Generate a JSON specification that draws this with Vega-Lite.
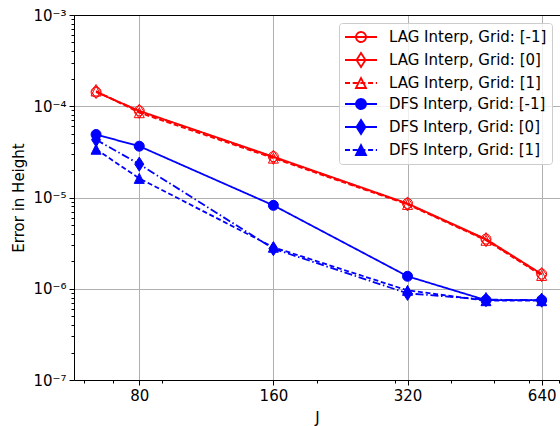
{
  "$schema": "https://vega.github.io/schema/vega-lite/v6.json",
  "width": 486,
  "height": 365,
  "autosize": {"type": "none"},
  "padding": {"left": 74, "top": 15, "right": 0, "bottom": 46},
  "config": {
    "view": {"stroke": null},
    "font": "DejaVu Sans",
    "axis": {"labelFont": "DejaVu Sans", "titleFont": "DejaVu Sans", "labelColor": "#000", "titleColor": "#000", "titleFontWeight": "normal", "labelFontSize": 15, "titleFontSize": 15, "domainColor": "#000", "domainWidth": 1, "tickColor": "#000", "tickWidth": 1, "labelOverlap": false, "labelFlush": false}
  },
  "data": {"values": [
    {"J": 64, "err": 1.43e-4, "series": "LAG Interp, Grid: [-1]"},
    {"J": 80, "err": 8.9e-5, "series": "LAG Interp, Grid: [-1]"},
    {"J": 160, "err": 2.8e-5, "series": "LAG Interp, Grid: [-1]"},
    {"J": 320, "err": 8.6e-6, "series": "LAG Interp, Grid: [-1]"},
    {"J": 480, "err": 3.5e-6, "series": "LAG Interp, Grid: [-1]"},
    {"J": 640, "err": 1.45e-6, "series": "LAG Interp, Grid: [-1]"},
    {"J": 64, "err": 1.45e-4, "series": "LAG Interp, Grid: [0]"},
    {"J": 80, "err": 8.8e-5, "series": "LAG Interp, Grid: [0]"},
    {"J": 160, "err": 2.76e-5, "series": "LAG Interp, Grid: [0]"},
    {"J": 320, "err": 8.5e-6, "series": "LAG Interp, Grid: [0]"},
    {"J": 480, "err": 3.45e-6, "series": "LAG Interp, Grid: [0]"},
    {"J": 640, "err": 1.43e-6, "series": "LAG Interp, Grid: [0]"},
    {"J": 64, "err": 1.47e-4, "series": "LAG Interp, Grid: [1]"},
    {"J": 80, "err": 8.5e-5, "series": "LAG Interp, Grid: [1]"},
    {"J": 160, "err": 2.7e-5, "series": "LAG Interp, Grid: [1]"},
    {"J": 320, "err": 8.4e-6, "series": "LAG Interp, Grid: [1]"},
    {"J": 480, "err": 3.4e-6, "series": "LAG Interp, Grid: [1]"},
    {"J": 640, "err": 1.4e-6, "series": "LAG Interp, Grid: [1]"},
    {"J": 64, "err": 4.9e-5, "series": "DFS Interp, Grid: [-1]"},
    {"J": 80, "err": 3.65e-5, "series": "DFS Interp, Grid: [-1]"},
    {"J": 160, "err": 8.2e-6, "series": "DFS Interp, Grid: [-1]"},
    {"J": 320, "err": 1.37e-6, "series": "DFS Interp, Grid: [-1]"},
    {"J": 480, "err": 7.5e-7, "series": "DFS Interp, Grid: [-1]"},
    {"J": 640, "err": 7.5e-7, "series": "DFS Interp, Grid: [-1]"},
    {"J": 64, "err": 4.3e-5, "series": "DFS Interp, Grid: [0]"},
    {"J": 80, "err": 2.32e-5, "series": "DFS Interp, Grid: [0]"},
    {"J": 160, "err": 2.75e-6, "series": "DFS Interp, Grid: [0]"},
    {"J": 320, "err": 8.9e-7, "series": "DFS Interp, Grid: [0]"},
    {"J": 480, "err": 7.6e-7, "series": "DFS Interp, Grid: [0]"},
    {"J": 640, "err": 7.5e-7, "series": "DFS Interp, Grid: [0]"},
    {"J": 64, "err": 3.38e-5, "series": "DFS Interp, Grid: [1]"},
    {"J": 80, "err": 1.62e-5, "series": "DFS Interp, Grid: [1]"},
    {"J": 160, "err": 2.85e-6, "series": "DFS Interp, Grid: [1]"},
    {"J": 320, "err": 9.6e-7, "series": "DFS Interp, Grid: [1]"},
    {"J": 480, "err": 7.4e-7, "series": "DFS Interp, Grid: [1]"},
    {"J": 640, "err": 7.4e-7, "series": "DFS Interp, Grid: [1]"}
  ]},
  "encoding": {
    "y": {
      "field": "err", "type": "quantitative",
      "scale": {"type": "log", "domain": [1e-7, 1e-3], "nice": false},
      "axis": {
        "title": "Error in Height",
        "titlePadding": 6,
        "values": [1e-7, 2e-7, 3e-7, 4e-7, 5e-7, 6e-7, 7e-7, 8e-7, 9e-7, 1e-6, 2e-6, 3e-6, 4e-6, 5e-6, 6e-6, 7e-6, 8e-6, 9e-6, 1e-5, 2e-5, 3e-5, 4e-5, 5e-5, 6e-5, 7e-5, 8e-5, 9e-5, 1e-4, 2e-4, 3e-4, 4e-4, 5e-4, 6e-4, 7e-4, 8e-4, 9e-4, 1e-3],
        "labelExpr": "abs(log(datum.value)/LN10 - round(log(datum.value)/LN10)) < 0.001 ? '10' + ['⁻⁷','⁻⁶','⁻⁵','⁻⁴','⁻³'][round(log(datum.value)/LN10)+7] : ''",
        "labelPadding": 3,
        "tickSize": {"condition": {"test": "abs(log(datum.value)/LN10 - round(log(datum.value)/LN10)) < 0.001", "value": 5}, "value": 3},
        "grid": true,
        "gridColor": "#b0b0b0",
        "gridWidth": 1,
        "gridOpacity": {"condition": {"test": "abs(log(datum.value)/LN10 - round(log(datum.value)/LN10)) < 0.001", "value": 1}, "value": 0}
      }
    }
  },
  "layer": [
    {
      "mark": {"type": "line", "strokeWidth": 1.8},
      "encoding": {
        "x": {
          "field": "J", "type": "quantitative",
          "scale": {"type": "log", "domain": [57.1, 703.6], "nice": false},
          "axis": {
            "title": "J",
            "titlePadding": 7,
            "values": [60, 70, 80, 90, 160, 200, 300, 320, 400, 500, 600, 640, 700],
            "labelExpr": "indexof([80,160,320,640], datum.value) >= 0 ? datum.label : ''",
            "labelPadding": 3,
            "tickSize": {"condition": {"test": "indexof([80,160,320,640], datum.value) >= 0", "value": 5}, "value": 3},
            "grid": true,
            "gridColor": "#b0b0b0",
            "gridWidth": 1,
            "gridOpacity": {"condition": {"test": "indexof([80,160,320,640], datum.value) >= 0", "value": 1}, "value": 0}
          }
        },
        "color": {
          "field": "series", "type": "nominal",
          "scale": {
            "domain": ["LAG Interp, Grid: [-1]", "LAG Interp, Grid: [0]", "LAG Interp, Grid: [1]", "DFS Interp, Grid: [-1]", "DFS Interp, Grid: [0]", "DFS Interp, Grid: [1]"],
            "range": ["#ff0000", "#ff0000", "#ff0000", "#0000ff", "#0000ff", "#0000ff"]
          },
          "legend": {
            "title": null,
            "orient": "top-right",
            "offset": 8,
            "padding": 5,
            "fillColor": "rgba(255,255,255,0.8)",
            "strokeColor": "#cccccc",
            "cornerRadius": 3,
            "labelFont": "DejaVu Sans",
            "labelFontSize": 15,
            "labelColor": "#000",
            "labelLimit": 400,
            "symbolSize": 256,
            "symbolStrokeWidth": 1.8,
            "labelOffset": 27,
            "rowPadding": 3,
            "encode": {
              "symbols": {
                "update": {
                  "shape": {"signal": "indexof(datum.value,'[-1]') >= 0 ? 'M-1,0H3M1.625,0A0.625,0.625 0 1 1 0.375,0A0.625,0.625 0 1 1 1.625,0Z' : indexof(datum.value,'[0]') >= 0 ? 'M-1,0H3M1,-0.88L1.56,0L1,0.88L0.44,0Z' : 'M-1,0H-0.375M-0.0375,0H0.5875M0.925,0H1.55M1.8875,0H2.5125M2.85,0H3M1,-0.625L1.625,0.625L0.375,0.625Z'"},
                  "fill": {"signal": "indexof(datum.value,'DFS') >= 0 ? '#0000ff' : 'transparent'"},
                  "strokeDash": {"value": [1, 0]},
                  "opacity": {"value": 1}
                }
              }
            }
          }
        },
        "strokeDash": {
          "field": "series", "type": "nominal",
          "scale": {
            "domain": ["DFS Interp, Grid: [1]", "DFS Interp, Grid: [0]", "DFS Interp, Grid: [-1]", "LAG Interp, Grid: [1]", "LAG Interp, Grid: [0]", "LAG Interp, Grid: [-1]"],
            "range": [[5, 2.7], [8, 2.7, 1.5, 2.7], [1, 0], [5, 2.7], [8, 2.7, 1.5, 2.7], [1, 0]]
          },
          "legend": null
        }
      }
    },
    {
      "mark": {"type": "point", "size": 100, "strokeWidth": 1, "opacity": 1},
      "encoding": {
        "x": {
          "field": "J", "type": "quantitative",
          "scale": {"type": "log", "domain": [57.1, 703.6], "nice": false},
          "axis": {"orient": "top", "title": null, "labels": false, "ticks": false, "grid": false, "domain": true}
        },
        "shape": {
          "field": "series", "type": "nominal",
          "scale": {
            "domain": ["DFS Interp, Grid: [1]", "DFS Interp, Grid: [0]", "DFS Interp, Grid: [-1]", "LAG Interp, Grid: [1]", "LAG Interp, Grid: [0]", "LAG Interp, Grid: [-1]"],
            "range": ["M0,-1L1,1L-1,1Z", "M0,-1.41L0.9,0L0,1.41L-0.9,0Z", "circle", "M0,-1L1,1L-1,1Z", "M0,-1.41L0.9,0L0,1.41L-0.9,0Z", "circle"]
          },
          "legend": null
        },
        "stroke": {
          "field": "series", "type": "nominal",
          "scale": {
            "domain": ["DFS Interp, Grid: [1]", "DFS Interp, Grid: [0]", "DFS Interp, Grid: [-1]", "LAG Interp, Grid: [1]", "LAG Interp, Grid: [0]", "LAG Interp, Grid: [-1]"],
            "range": ["#0000ff", "#0000ff", "#0000ff", "#ff0000", "#ff0000", "#ff0000"]
          },
          "legend": null
        },
        "fill": {
          "field": "series", "type": "nominal",
          "scale": {
            "domain": ["DFS Interp, Grid: [1]", "DFS Interp, Grid: [0]", "DFS Interp, Grid: [-1]", "LAG Interp, Grid: [1]", "LAG Interp, Grid: [0]", "LAG Interp, Grid: [-1]"],
            "range": ["#0000ff", "#0000ff", "#0000ff", "transparent", "transparent", "transparent"]
          },
          "legend": null
        }
      }
    }
  ],
  "resolve": {"axis": {"x": "independent"}}
}
